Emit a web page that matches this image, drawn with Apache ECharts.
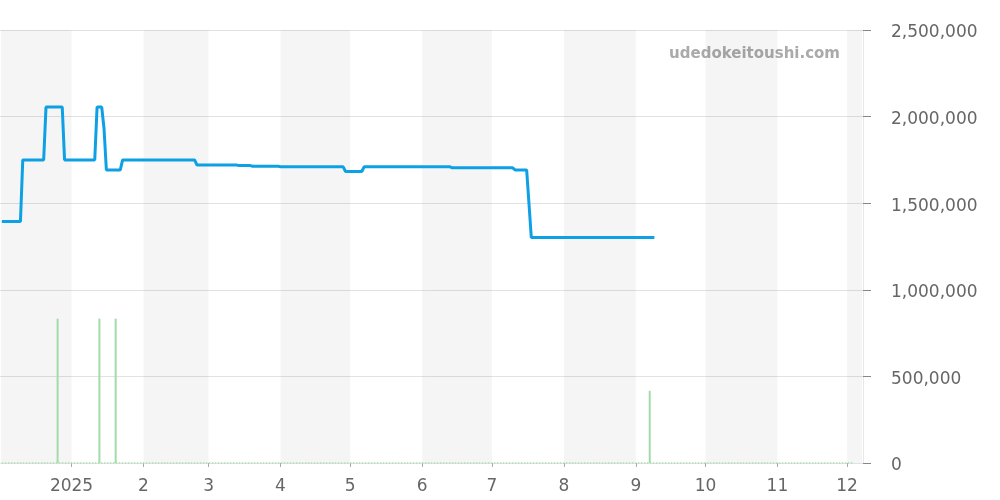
<!DOCTYPE html>
<html>
<head>
<meta charset="utf-8">
<script src="https://cdn.jsdelivr.net/npm/echarts@6/dist/echarts.min.js"></script>
<style>html,body{margin:0;padding:0;background:#fff;}#c{width:1000px;height:500px;}</style>
</head>
<body>
<div id="c"></div>
<script>
// Price line (date, yen)
const priceDates = ['2024-12-02','2024-12-10','2024-12-11','2024-12-20','2024-12-21','2024-12-28','2024-12-29',
  '2025-01-11','2025-01-12','2025-01-14','2025-01-15','2025-01-16','2025-01-22','2025-01-23',
  '2025-02-23','2025-02-24','2025-03-13','2025-03-14','2025-03-19','2025-03-20','2025-03-31',
  '2025-04-01','2025-04-28','2025-04-29','2025-05-06','2025-05-07','2025-06-13','2025-06-14',
  '2025-07-10','2025-07-11','2025-07-16','2025-07-18','2025-09-09'];
const priceValues = [1395000,1395000,1750000,1750000,2055000,2055000,1750000,
  1750000,2055000,2055000,1930000,1692000,1692000,1750000,
  1750000,1721000,1721000,1717000,1717000,1713000,1713000,
  1710000,1710000,1683000,1683000,1710000,1710000,1704000,
  1704000,1692000,1692000,1302000,1302000];
// Listing counts (bars, secondary hidden axis)
const countDates = ['2024-12-26','2025-01-13','2025-01-20','2025-09-07'];
const countValues = [2,2,2,1];
// Daily zero-count baseline range
const baselineDates = ['2024-12-02','2025-12-04'];
// Shaded month bands
const shadedMonths = [['2024-12-01T15:00','2025-01-01'],['2025-02-01','2025-03-01'],['2025-04-01','2025-05-01'],
  ['2025-06-01','2025-07-01'],['2025-08-01','2025-09-01'],['2025-10-01','2025-11-01'],['2025-12-01','2025-12-07T10:00']];
const xMin = '2024-12-01T15:00';
const xMax = '2025-12-07T10:00';
const yTicks = {min:0, max:2500000, interval:500000};

const chart = echarts.init(document.getElementById('c'));
const fmt = v => v.toString().replace(/\B(?=(\d{3})+(?!\d))/g, ',');
chart.setOption({
  animation:false,
  grid:{left:0, right:137, top:30, bottom:37, containLabel:false},
  graphic:[{type:'text', right:160, top:47, style:{text:'udedokeitoushi.com', fill:'#aaaaaa', font:'bold 15px "DejaVu Sans"'}}],
  xAxis:{type:'time', min:xMin, max:xMax, splitNumber:12,
    minInterval:28*86400000, maxInterval:31*86400000,
    axisLine:{show:false},
    axisTick:{show:true, length:4, lineStyle:{color:'#aaa'}},
    splitLine:{show:false},
    axisLabel:{showMinLabel:false, showMaxLabel:false, color:'#666', fontSize:17, fontFamily:'DejaVu Sans', margin:15,
      formatter:function(v){const d=new Date(v); return d.getMonth()===0 ? String(d.getFullYear()) : String(d.getMonth()+1);}}
  },
  yAxis:[{type:'value', position:'right', min:yTicks.min, max:yTicks.max, interval:yTicks.interval,
    axisLine:{show:true, lineStyle:{color:'#e8e8e8'}},
    axisTick:{show:true, length:8, lineStyle:{color:'#888'}},
    splitLine:{lineStyle:{color:'#e2e2e2'}},
    axisLabel:{color:'#666', fontSize:17, fontFamily:'DejaVu Sans', margin:28,
      formatter:v => '{a|' + fmt(v) + '}',
      rich:{a:{padding:[6,0,0,0], fontSize:17, color:'#666', fontFamily:'DejaVu Sans'}}}
  },{type:'value', show:false, min:0, max:6}],
  series:[
    {type:'line', data:[], silent:true,
      markArea:{silent:true, itemStyle:{color:'rgba(0,0,0,0.04)'}, data:shadedMonths.map(m=>[{xAxis:m[0]},{xAxis:m[1]}])}},
    {type:'line', yAxisIndex:1, data:baselineDates.map(d=>[d,0]), symbol:'none',
      lineStyle:{color:'#a6dbac', width:1.5, type:'dotted'}},
    {type:'bar', yAxisIndex:1, data:countDates.map((d,i)=>[d,countValues[i]]), barWidth:2,
      itemStyle:{color:'#a2dba8'}},
    {type:'line', data:priceDates.map((d,i)=>[d,priceValues[i]]), symbol:'none',
      lineStyle:{color:'#0ea0e4', width:3}}
  ]
});
</script>
</body>
</html>
